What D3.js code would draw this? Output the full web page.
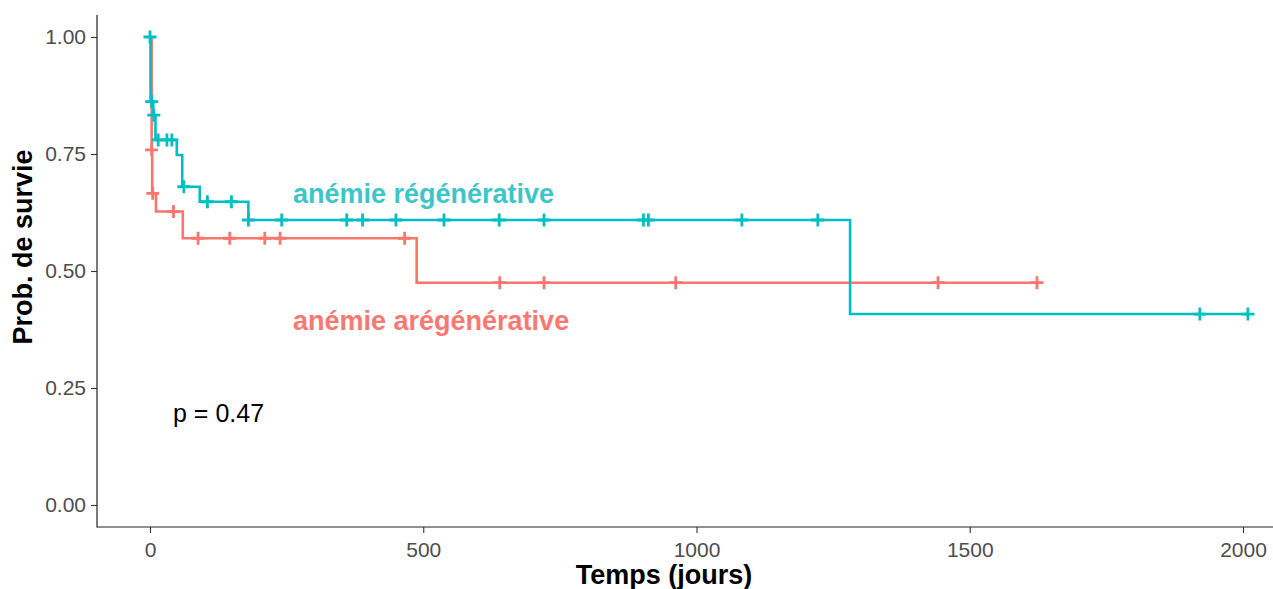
<!DOCTYPE html>
<html>
<head>
<meta charset="utf-8">
<script src="https://cdn.jsdelivr.net/npm/d3@7"></script>
<style>
  html, body { margin: 0; padding: 0; background: #fff; }
  svg { display: block; font-family: "Liberation Sans", Arial, sans-serif; }
</style>
</head>
<body>
<svg id="chart" width="1273" height="589"></svg>
<script>
// ---- Data ----
const xTicks = [0, 500, 1000, 1500, 2000];
const yTicks = [0, 0.25, 0.5, 0.75, 1.0];

// Anémie arégénérative (red) : step times and survival after each step
const aregTimes = [0, 3, 4, 11, 60, 488];
const aregSurv  = [1.0, 0.759, 0.666, 0.627, 0.570, 0.475];
const aregEnd   = 1623;
const aregCensor = [3, 5, 43, 88, 146, 210, 238, 466, 640, 721, 962, 1442, 1623];

// Anémie régénérative (teal)
const regTimes = [0, 1, 6, 10, 49, 59, 91, 180, 1281];
const regSurv  = [1.0, 0.862, 0.833, 0.780, 0.748, 0.680, 0.648, 0.609, 0.408];
const regEnd   = 2009;
const regCensor = [0, 3, 7, 15, 31, 40, 62, 105, 149, 180, 241, 360, 389, 450, 538, 639, 721, 903, 912, 1083, 1222, 1921, 2009];

const groupNames = ["anémie arégénérative", "anémie régénérative"];
const pValueText = "p = 0.47";
const xTitle = "Temps (jours)";
const yTitle = "Prob. de survie";

// ---- Drawing ----
const svg = d3.select("#chart");
const x = d3.scaleLinear().domain([0, 2000]).range([150, 1243]);
const y = d3.scaleLinear().domain([0, 1]).range([505, 37]);
const panel = { left: 97, right: 1273, top: 15, bottom: 527 };

const RED = "#F8766D", TEAL = "#00BFC4";

function stepPath(times, surv, end) {
  const pts = [];
  for (let i = 0; i < times.length; i++) {
    if (i > 0) pts.push([times[i], surv[i - 1]]);
    pts.push([times[i], surv[i]]);
  }
  pts.push([end, surv[surv.length - 1]]);
  return d3.line().x(d => x(d[0])).y(d => y(d[1]))(pts);
}
function survAt(times, surv, t) {
  const i = d3.bisectRight(times, t) - 1;
  return surv[Math.max(0, i)];
}
function drawCurve(times, surv, end, censor, color) {
  const g = svg.append("g");
  g.append("path")
    .attr("d", stepPath(times, surv, end))
    .attr("fill", "none").attr("stroke", color)
    .attr("stroke-width", 2.6).attr("stroke-linejoin", "miter");
  const s = 6.5;
  g.selectAll("path.cens").data(censor).join("path")
    .attr("class", "cens")
    .attr("d", t => {
      const cx = x(t), cy = y(survAt(times, surv, t));
      return `M${cx - s},${cy}H${cx + s}M${cx},${cy - s}V${cy + s}`;
    })
    .attr("stroke", color).attr("stroke-width", 2.8).attr("fill", "none");
}

drawCurve(aregTimes, aregSurv, aregEnd, aregCensor, RED);
drawCurve(regTimes, regSurv, regEnd, regCensor, TEAL);

// Axes
const yAxis = d3.axisLeft(y).tickValues(yTicks).tickFormat(d3.format(".2f")).tickSize(6).tickPadding(5);
const gy = svg.append("g").attr("transform", `translate(${panel.left},0)`).call(yAxis);
const xAxis = d3.axisBottom(x).tickValues(xTicks).tickFormat(d3.format("d")).tickSize(6).tickPadding(9);
const gx = svg.append("g").attr("transform", `translate(0,${panel.bottom})`).call(xAxis);
[gx, gy].forEach(g => {
  g.select(".domain").remove();
  g.selectAll(".tick line").attr("stroke", "#333").attr("stroke-width", 1.1);
  g.selectAll(".tick text").attr("fill", "#4D4D4D").style("font-size", "21px")
    .style("font-family", "'Liberation Sans', Arial, sans-serif");
});
svg.append("line").attr("x1", panel.left).attr("x2", panel.left)
  .attr("y1", panel.top).attr("y2", panel.bottom + 0.5)
  .attr("stroke", "#222").attr("stroke-width", 1.2);
svg.append("line").attr("x1", panel.left).attr("x2", panel.right)
  .attr("y1", panel.bottom).attr("y2", panel.bottom)
  .attr("stroke", "#222").attr("stroke-width", 1.2);

// Titles
svg.append("text").text(xTitle)
  .attr("x", 664).attr("y", 584).attr("text-anchor", "middle")
  .style("font-size", "27px").style("font-weight", "bold").attr("fill", "#000");
svg.append("text").text(yTitle)
  .attr("transform", "translate(32,247) rotate(-90)").attr("text-anchor", "middle")
  .style("font-size", "27px").style("font-weight", "bold").attr("fill", "#000");

// Group labels
svg.append("text").text(groupNames[1])
  .attr("x", 293).attr("y", 203)
  .style("font-size", "27px").style("font-weight", "bold").attr("fill", "#3CC6C8");
svg.append("text").text(groupNames[0])
  .attr("x", 293).attr("y", 330)
  .style("font-size", "27px").style("font-weight", "bold").attr("fill", "#F97870");

// p-value
svg.append("text").text(pValueText)
  .attr("x", 173).attr("y", 422)
  .style("font-size", "25px").attr("fill", "#000");
</script>
</body>
</html>
